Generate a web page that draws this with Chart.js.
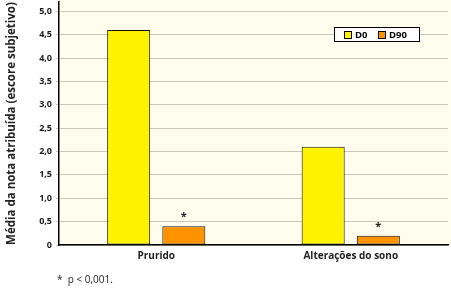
<!DOCTYPE html>
<html><head><meta charset="utf-8">
<script src="https://cdn.jsdelivr.net/npm/chart.js@4"></script>
<style>html,body{margin:0;padding:0;background:#fff;}#wrap{width:451px;height:289px;position:relative;}</style>
</head><body><div id="wrap"><canvas id="c" width="451" height="289"></canvas></div>
<script>
const categories = ["Prurido", "Alterações do sono"];
const seriesNames = ["D0", "D90"];
const d0Values = [4.6, 2.1];
const d90Values = [0.4, 0.2];
const significant = [true, true];
const yTicks = [0, 0.5, 1.0, 1.5, 2.0, 2.5, 3.0, 3.5, 4.0, 4.5, 5.0];
const yTitle = "Média da nota atribuída (escore subjetivo)";
const footnote = "*  p < 0,001.";
const FONT = "'Open Sans', 'Noto Sans', sans-serif";

const bgPlugin = {
  id: 'bg',
  beforeDraw(chart) {
    const {ctx, chartArea: a} = chart;
    ctx.save();
    ctx.fillStyle = '#fffdee';
    ctx.fillRect(a.left, 0, chart.width - a.left, a.bottom);
    ctx.restore();
  },
  afterDraw(chart) {
    const ctx = chart.ctx;
    const meta = chart.getDatasetMeta(1);
    ctx.save();
    ctx.fillStyle = '#222';
    ctx.font = "bold 11px " + FONT;
    ctx.textAlign = 'center';
    ctx.textBaseline = 'middle';
    meta.data.forEach((bar, i) => {
      if (significant[i]) ctx.fillText('*', bar.x, bar.y - 9);
    });
    // legend
    const lx = 334, ly = 27, lw = 85, lh = 14;
    ctx.fillStyle = '#fff';
    ctx.fillRect(lx, ly, lw, lh);
    ctx.strokeStyle = '#000';
    ctx.lineWidth = 1;
    ctx.strokeRect(lx + 0.5, ly + 0.5, lw, lh);
    const items = [[lx + 10, 0], [lx + 44, 1]];
    ctx.font = "bold 9.5px " + FONT;
    ctx.textAlign = 'left';
    items.forEach(([x, di]) => {
      const ds = chart.data.datasets[di];
      ctx.fillStyle = ds.backgroundColor;
      ctx.fillRect(x, ly + 4, 7, 7);
      ctx.strokeRect(x + 0.5, ly + 4.5, 7, 7);
      ctx.fillStyle = '#000';
      ctx.fillText(ds.label, x + 11, ly + 8);
    });
    // footnote
    ctx.font = "10px " + FONT;
    ctx.fillStyle = '#222';
    ctx.fillText(footnote, 57, 280);
    ctx.restore();
  }
};

new Chart(document.getElementById('c'), {
  type: 'bar',
  data: {
    labels: categories,
    datasets: [
      {label: seriesNames[0], data: d0Values, backgroundColor: '#fff200', borderColor: '#111', borderWidth: 1, borderSkipped: false},
      {label: seriesNames[1], data: d90Values, backgroundColor: '#ff9200', borderColor: '#111', borderWidth: 1, borderSkipped: false}
    ]
  },
  options: {
    responsive: false,
    animation: false,
    devicePixelRatio: 1,
    categoryPercentage: 0.567,
    barPercentage: 0.78,
    layout: {padding: {top: 2, right: 3, left: 0, bottom: 0}},
    plugins: {legend: {display: false}, tooltip: {enabled: false}},
    scales: {
      x: {
        grid: {display: false, drawTicks: false},
        border: {color: '#000', width: 1.5},
        ticks: {color: '#222', font: {family: FONT, size: 10, weight: 'bold'}, padding: 5},
        afterFit(s) { s.height = 44; s.paddingLeft = 0; s.paddingRight = 0; }
      },
      y: {
        min: 0, max: 5.2,
        border: {color: '#000', width: 1.5},
        grid: {color: '#cbc6b6', lineWidth: 1, tickLength: 3, drawTicks: true},
        afterBuildTicks(s) { s.ticks = yTicks.map(v => ({value: v})); },
        ticks: {
          color: '#1a1a1a',
          font: {family: FONT, size: 9, weight: 'bold'},
          padding: 4,
          callback: (v) => v === 0 ? '0' : v.toFixed(1).replace('.', ',')
        },
        title: {display: true, text: yTitle, color: '#222', font: {family: FONT, size: 11.5, weight: 'bold'}, padding: {top: 5, bottom: 3}},
        afterFit(s) { s.width = 59; s.paddingTop = 0; s.paddingBottom = 0; }
      }
    }
  },
  plugins: [bgPlugin]
});
</script></body></html>
